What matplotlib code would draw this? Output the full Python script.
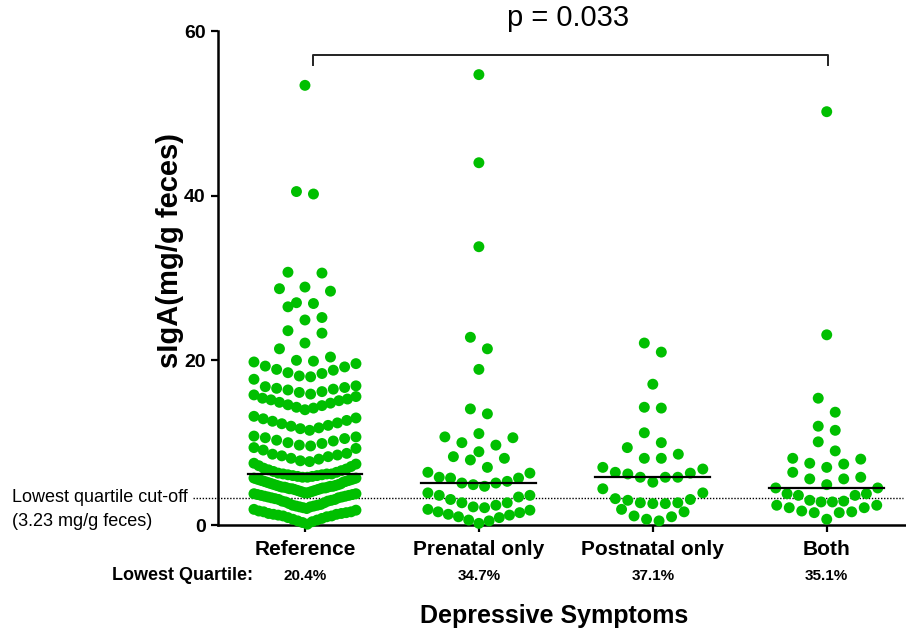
import numpy as np
import matplotlib
matplotlib.use("Agg")
import matplotlib.pyplot as plt
from matplotlib.transforms import blended_transform_factory

plt.rcParams['font.family'] = ['Liberation Sans', 'DejaVu Sans']

groups = ['Reference', 'Prenatal only', 'Postnatal only', 'Both']
lowest_quartile = ['20.4%', '34.7%', '37.1%', '35.1%']

# sIgA values (mg/g feces), roughly row by row
reference = [
    53.4, 40.2, 40.5, 30.7, 30.6, 28.4, 28.7, 28.9, 26.5, 26.9, 27.0,
    24.9, 25.2, 23.3, 23.6, 21.4, 22.1, 19.9, 20.0, 20.4,
    17.7, 18.0, 18.1, 18.4, 18.5, 18.8, 18.9, 19.2, 19.3, 19.6, 19.8,
    15.6, 15.8, 15.9, 16.1, 16.2, 16.4, 16.5, 16.6, 16.7, 16.8, 16.9,
    14.0, 14.2, 14.3, 14.5, 14.6, 14.8, 14.9, 15.1, 15.2, 15.3, 15.4,
    11.5, 11.7, 11.8, 12.0, 12.1, 12.3, 12.4, 12.6, 12.7, 12.9, 13.0, 13.2,
    9.1, 9.3, 9.4, 9.6, 9.7, 9.9, 10.0, 10.2, 10.3, 10.5, 10.6, 10.7, 10.8,
    6.9, 7.1, 7.2, 7.4, 7.5, 7.7, 7.8, 8.0, 8.1, 8.3, 8.4, 8.5, 8.6, 8.7,
    6.4, 6.5, 6.6, 6.7, 6.8, 6.3,
    4.6, 4.8, 4.9, 5.1, 5.2, 5.4, 5.5, 5.7, 5.8, 6.0, 6.2,
    4.4, 4.5, 4.7, 4.9, 5.0, 5.3, 5.4, 5.6, 5.7, 5.9, 6.1,
    5.0, 5.2, 5.3, 5.5, 5.6, 5.8, 5.9, 6.0, 6.1, 6.2, 6.2,
    3.3, 3.5, 3.6, 3.8, 3.9, 4.1, 4.2, 4.3, 4.4, 4.5, 4.6,
    3.4, 3.6, 3.7, 3.9, 4.0, 4.2, 4.3, 4.4, 4.6, 4.7, 4.8,
    3.3, 3.4, 3.5, 3.7, 3.8, 4.0, 4.1, 4.5, 4.7,
    2.2, 2.3, 2.4, 2.6, 2.7, 2.8, 2.9, 3.0, 3.1, 3.1, 3.2,
    1.1, 1.3, 1.4, 1.6, 1.7, 1.9, 2.0, 2.1, 2.2, 2.3, 2.4,
    0.1, 0.3, 0.4, 0.6, 0.7, 0.9, 1.0, 1.2, 1.3, 1.5, 1.6,
    0.5, 0.8, 1.1, 1.4, 1.8, 2.5, 2.9,
]
prenatal = [
    54.7, 44.0, 33.8, 22.8, 21.4, 18.9, 14.1, 13.5,
    11.1, 10.6, 9.7, 10.0, 10.7,
    8.3, 7.9, 7.0, 8.1, 8.9,
    6.3, 5.7, 5.3, 5.1, 4.7, 4.9, 5.1, 5.7, 5.8, 6.4,
    3.9, 3.6, 3.1, 2.7, 2.4, 2.7, 3.4, 3.6,
    2.2, 1.9, 1.6, 1.3, 1.0, 0.6, 0.2, 0.5, 0.9, 1.2, 1.5, 1.8, 2.1,
]
postnatal = [
    22.1, 21.0, 17.1, 14.3, 14.2, 11.2, 9.4, 10.0, 8.1, 8.1, 8.6,
    7.0, 6.4, 6.2, 5.8, 5.2, 5.8, 5.8, 6.3, 6.8,
    3.9, 3.1, 2.7, 2.7, 3.0, 3.2, 4.4, 2.6, 2.6,
    1.6, 1.0, 0.5, 0.7, 1.1, 1.9,
]
both = [
    50.2, 23.1, 15.4, 13.7, 11.5, 12.0, 10.1, 9.0, 7.5, 8.1, 8.0, 7.4,
    7.0, 6.4, 5.6, 5.8, 5.6,
    4.5, 3.8, 3.6, 3.6, 3.8, 4.5, 4.9,
    2.8, 2.4, 2.1, 1.6, 1.5, 0.7, 1.5, 1.7, 2.1, 2.4, 2.8, 3.0, 2.9,
]
data = [reference, prenatal, postnatal, both]
cutoff = 3.23
p_text = 'p = 0.033'

W, H = 906, 631
GREEN = '#00bf00'


def row_offsets(vals, h=1.8, width=102.0):
    # Prism-style scatter: close values share a row, lowest in the middle,
    # the rest alternating right/left outwards. Offsets are in pixels.
    vals = np.asarray(vals)
    rows, start = [], None
    for i in np.argsort(vals, kind='stable'):
        if start is None or vals[i] - start > h + 1e-9:
            rows.append([])
            start = vals[i]
        rows[-1].append(i)
    xs = np.zeros(len(vals))
    for r in rows:
        n = len(r)
        s = 17.0 if n <= 5 else min(12.5, width / (n - 1))
        for k, i in enumerate(r):
            if n % 2:
                slot = 0 if k == 0 else ((k + 1) // 2) * (1 if k % 2 else -1)
            else:
                slot = (k // 2 + 0.5) * (1 if k % 2 == 0 else -1)
            xs[i] = slot * s
    return xs


fig = plt.figure(figsize=(W / 100, H / 100), dpi=100)
ax = fig.add_axes([218 / W, 1 - 525 / H, 687 / W, 494 / H])
ax.set_xlim(-0.5, 3.45)
ax.set_ylim(0, 60)

for i, vals in enumerate(data):
    vals = np.array(vals)
    pts = ax.transData.transform(np.column_stack([np.full(len(vals), i), vals]))
    pts[:, 0] += row_offsets(vals)
    xy = ax.transData.inverted().transform(pts)
    ax.scatter(xy[:, 0], xy[:, 1], s=62, color=GREEN, edgecolors='none',
               zorder=3, clip_on=False)
    med = np.median(vals)
    ax.plot([i - 0.33, i + 0.33], [med, med], color='black', lw=1.6, zorder=4)

# lowest quartile cut-off line
ax.plot([-0.645, 3.44], [cutoff, cutoff], color='black', lw=1.0,
        linestyle=(0, (1, 1.2)), clip_on=False, zorder=2)
fig.text(12 / W, 1 - 497 / H, 'Lowest quartile cut-off', fontsize=13,
         ha='left', va='center')
fig.text(12 / W, 1 - 521 / H, '(3.23 mg/g feces)', fontsize=13,
         ha='left', va='center')

# significance bracket
ax.plot([0.046, 0.046, 3.006, 3.006], [55.9, 57.1, 57.1, 55.9],
        color='#222222', lw=1.4, clip_on=False)
fig.text(568 / W, 1 - 18 / H, p_text, fontsize=21, ha='center', va='center')

for s in ['top', 'right']:
    ax.spines[s].set_visible(False)
for s in ['left', 'bottom']:
    ax.spines[s].set_linewidth(1.8)

ax.set_yticks([0, 20, 40, 60])
ax.set_xticks(range(len(groups)))
ax.set_xticklabels(groups, fontsize=15, fontweight='bold')
ax.tick_params(axis='y', labelsize=14, width=1.6, length=5, pad=4)
ax.tick_params(axis='x', width=1.6, length=5, pad=6)
for t in ax.get_yticklabels():
    t.set_fontweight('bold')

ax.set_ylabel('sIgA(mg/g feces)', fontsize=21, fontweight='bold')
ax.yaxis.set_label_coords(-0.05, 0.555)

lq_tr = blended_transform_factory(ax.transData, fig.transFigure)
fig.text(112 / W, 1 - 576 / H, 'Lowest Quartile:', fontsize=13,
         fontweight='bold', ha='left', va='center')
for i, lab in enumerate(lowest_quartile):
    ax.text(i, 1 - 576 / H, lab, transform=lq_tr, fontsize=11,
            fontweight='bold', ha='center', va='center')

fig.text(554 / W, 1 - 616 / H, 'Depressive Symptoms', fontsize=18,
         fontweight='bold', ha='center', va='center')

fig.savefig('out.png', dpi=100)
